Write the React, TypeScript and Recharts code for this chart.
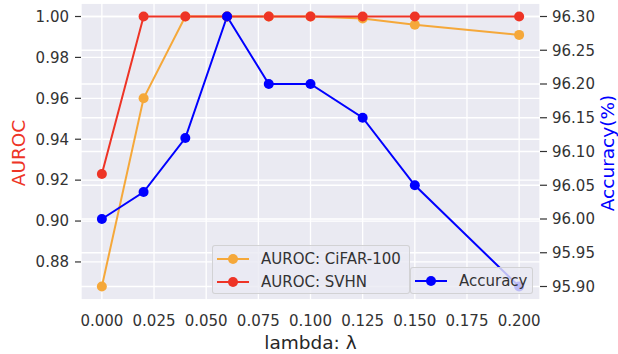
import React from "react";
import { ComposedChart, Line, XAxis, YAxis, CartesianGrid } from "recharts";

const lambdas = [0, 0.02, 0.04, 0.06, 0.08, 0.1, 0.125, 0.15, 0.2];
const aurocCifar = [0.868, 0.96, 1.0, 1.0, 1.0, 1.0, 0.999, 0.996, 0.991];
const aurocSvhn = [0.923, 1.0, 1.0, 1.0, 1.0, 1.0, 1.0, 1.0, 1.0];
const accuracy = [96.0, 96.04, 96.12, 96.3, 96.2, 96.2, 96.15, 96.05, 95.9];

const xTicks = [0, 0.025, 0.05, 0.075, 0.1, 0.125, 0.15, 0.175, 0.2];
const leftTicks = [0.88, 0.9, 0.92, 0.94, 0.96, 0.98, 1.0];
const rightTicks = [95.9, 95.95, 96.0, 96.05, 96.1, 96.15, 96.2, 96.25, 96.3];

const ORANGE = "#f5a83a";
const RED = "#ee3426";
const BLUE = "#0000ff";
const FONT = "'DejaVu Sans', sans-serif";
const TICK_COLOR = "#333333";

const data = lambdas.map((l, i) => ({
    lambda: l,
    cifar: aurocCifar[i],
    svhn: aurocSvhn[i],
    acc: accuracy[i],
}));

const leftLegend = [
    { name: "AUROC: CiFAR-100", color: ORANGE },
    { name: "AUROC: SVHN", color: RED },
];
const rightLegend = [{ name: "Accuracy", color: BLUE }];

function LegendBox({ items, style }: { items: { name: string; color: string }[]; style: React.CSSProperties }) {
    return (
        <div
            style={{
                position: "absolute",
                boxSizing: "border-box",
                background: "rgba(234,234,242,0.8)",
                border: "1px solid rgba(204,204,204,0.8)",
                borderRadius: 3,
                padding: "2px 0",
                ...style,
            }}
        >
            {items.map((it) => (
                <div key={it.name} style={{ display: "flex", alignItems: "center", height: 22.5 }}>
                    <svg width={48} height={12} style={{ flex: "none" }}>
                        <line x1={4} y1={6} x2={36} y2={6} stroke={it.color} strokeWidth={2} />
                        <circle cx={20} cy={6} r={5} fill={it.color} />
                    </svg>
                    <span style={{ fontSize: 15, color: TICK_COLOR, fontFamily: FONT, whiteSpace: "nowrap" }}>{it.name}</span>
                </div>
            ))}
        </div>
    );
}

export default function App() {
    const tick = { fill: TICK_COLOR, fontSize: 15, fontFamily: FONT };
    return (
        <div style={{ position: "absolute", left: 0, top: 0, width: 618, height: 354, background: "#fff" }}>
            <ComposedChart width={618} height={354} data={data} margin={{ top: 3, right: 0, bottom: 0, left: 0 }}>
                <CartesianGrid yAxisId="left" fill="#eaeaf2" stroke="#ffffff" strokeWidth={1.3} />
                <CartesianGrid yAxisId="right" vertical={false} stroke="#ffffff" strokeWidth={1.3} />
                <XAxis
                    dataKey="lambda"
                    type="number"
                    domain={[-0.01, 0.21]}
                    ticks={xTicks}
                    tickFormatter={(v: number) => v.toFixed(3)}
                    height={54}
                    axisLine={false}
                    tickLine={false}
                    tickSize={8}
                    tickMargin={7}
                    tick={tick}
                    allowDataOverflow
                    label={{
                        content: () => (
                            <text x={310.5} y={349} textAnchor="middle" fontSize={18.5} fontFamily={FONT} fill="#262626">
                                lambda: λ
                            </text>
                        ),
                    }}
                />
                <YAxis
                    yAxisId="left"
                    domain={[0.8614, 1.0066]}
                    ticks={leftTicks}
                    tickFormatter={(v: number) => v.toFixed(2)}
                    width={81}
                    axisLine={false}
                    tickLine={{ stroke: TICK_COLOR, strokeWidth: 1.2 }}
                    tickSize={6}
                    tickMargin={6}
                    tick={tick}
                    allowDataOverflow
                    label={{
                        content: () => (
                            <text
                                x={25}
                                y={153}
                                textAnchor="middle"
                                fontSize={18.5}
                                fontFamily={FONT}
                                fill={RED}
                                transform="rotate(-90 25 153)"
                            >
                                AUROC
                            </text>
                        ),
                    }}
                />
                <YAxis
                    yAxisId="right"
                    orientation="right"
                    domain={[95.88, 96.32]}
                    ticks={rightTicks}
                    tickFormatter={(v: number) => v.toFixed(2)}
                    width={78}
                    axisLine={false}
                    tickLine={{ stroke: TICK_COLOR, strokeWidth: 1.2 }}
                    tickSize={7}
                    tickMargin={5}
                    tick={tick}
                    allowDataOverflow
                    label={{
                        content: () => (
                            <text
                                x={614}
                                y={153}
                                textAnchor="middle"
                                fontSize={18.5}
                                fontFamily={FONT}
                                fill={BLUE}
                                transform="rotate(-90 614 153)"
                            >
                                Accuracy(%)
                            </text>
                        ),
                    }}
                />
                <Line
                    yAxisId="left"
                    dataKey="cifar"
                    type="linear"
                    stroke={ORANGE}
                    strokeWidth={2}
                    dot={{ r: 5, fill: ORANGE, stroke: ORANGE, strokeWidth: 0 }}
                    activeDot={false}
                    isAnimationActive={false}
                />
                <Line
                    yAxisId="left"
                    dataKey="svhn"
                    type="linear"
                    stroke={RED}
                    strokeWidth={2}
                    dot={{ r: 5, fill: RED, stroke: RED, strokeWidth: 0 }}
                    activeDot={false}
                    isAnimationActive={false}
                />
                <Line
                    yAxisId="right"
                    dataKey="acc"
                    type="linear"
                    stroke={BLUE}
                    strokeWidth={2}
                    dot={{ r: 5, fill: BLUE, stroke: BLUE, strokeWidth: 0 }}
                    activeDot={false}
                    isAnimationActive={false}
                />
            </ComposedChart>
            <LegendBox items={leftLegend} style={{ left: 212, top: 245, width: 198, height: 49 }} />
            <LegendBox items={rightLegend} style={{ left: 410, top: 267, width: 123, height: 27 }} />
        </div>
    );
}
